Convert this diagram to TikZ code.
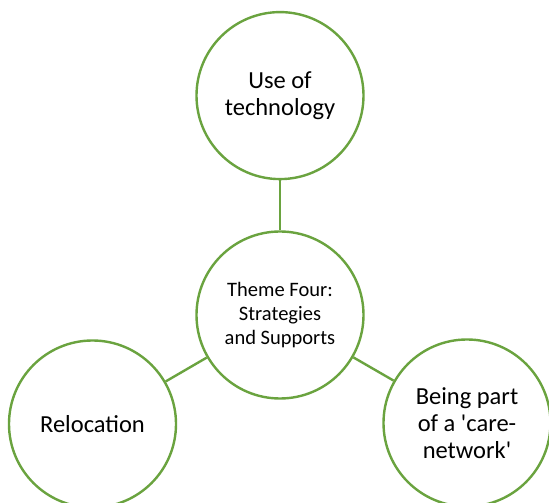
\documentclass[tikz,border=0pt]{standalone}
\usepackage{fontspec}
\newfontfamily\themefont{Carlito}
\usetikzlibrary{positioning}
\definecolor{leafgreen}{HTML}{6AA33F}
\tikzstyle{theme} = [circle, draw=leafgreen, line width=2.4pt, fill=white, minimum size=167pt, inner sep=0pt, text centered, align=center, font=\themefont\fontsize{24.5}{27}\selectfont]
\tikzstyle{hub} = [theme, font=\themefont\fontsize{20.5}{24}\selectfont]
\tikzstyle{link} = [draw=leafgreen, line width=2.4pt]

\begin{document}
\begin{tikzpicture}[x=1pt, y=1pt, node distance=50pt]
\useasboundingbox (0,0) rectangle (549,503);

% Circles (Themes)
\node[hub] (core) at (280,188) {Theme Four:\\Strategies\\and Supports};
\node[theme, above=of core] (tech) {Use of\\technology};
\node[theme] (move) at (92.5,79) {Relocation};
\node[theme] (care) at (467,80) {Being part\\of a \char"0027 care-\\network\char"0027};

% Links
\draw[link] (core) -- (tech);
\draw[link] (core) -- (move);
\draw[link] (core) -- (care);

\end{tikzpicture}
\end{document}
